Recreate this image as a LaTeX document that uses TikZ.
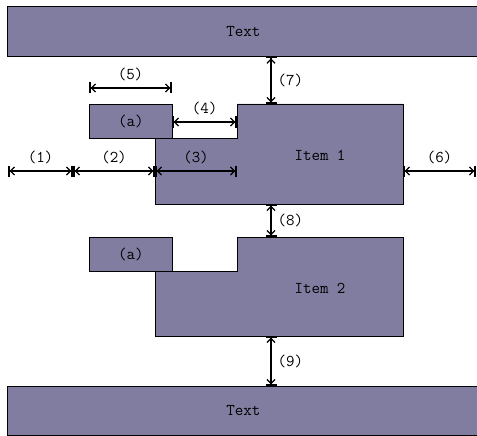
\documentclass[tikz,border=0pt]{standalone}
\usetikzlibrary{calc,positioning,arrows.meta}
\definecolor{boxfill}{RGB}{128,125,160}

\begin{document}
\begin{tikzpicture}[x=1pt, y=-1pt, font=\ttfamily\fontsize{16.5}{18}\selectfont,
	block/.style = {draw, fill=boxfill, line width=0.8pt, inner sep=0pt, anchor=north west},
	dim/.style = {{Bar[width=11pt,line width=1.6pt]Straight Barb[length=4pt,width=8pt]}-{Straight Barb[length=4pt,width=8pt]Bar[width=11pt,line width=1.6pt]}, line width=1.3pt},
	lbl/.style = {inner sep=2pt}]
\useasboundingbox (0,0) rectangle (477,436);

\node[block, minimum width=472pt, minimum height=50pt] (top)    at (7,6)   {Text};
\node[block, minimum width=472pt, minimum height=49pt] (bottom) at (7,386) {Text};

% item 1
\draw[block] (237,104) -- (403,104) -- (403,204) -- (155,204) -- (155,138) -- (237,138) -- cycle;
\node (item 1) at (320,155) {Item 1};
\node[block, minimum width=83pt, minimum height=34pt] (a1) at (89,104) {(a)};

% item 2
\draw[block] (237,237) -- (403,237) -- (403,336) -- (155,336) -- (155,271) -- (237,271) -- cycle;
\node (item 2) at (320,288) {Item 2};
\node[block, minimum width=83pt, minimum height=34pt] (a2) at (89,237) {(a)};

% dimension ends
\coordinate (p0) at (8,171);
\coordinate (p1) at (73,171);
\coordinate (p2) at (155,171);
\coordinate (p3) at (237,171);
\coordinate (p4) at (403,171);
\coordinate (p5) at (476,171);
\coordinate (q0) at (172,122);
\coordinate (q1) at (237,122);
\coordinate (r0) at (89,88);
\coordinate (r1) at (172,88);
\coordinate (v0) at (top.south -| 271,0);
\coordinate (v1) at (271,104);
\coordinate (v2) at (271,204);
\coordinate (v3) at (271,237);
\coordinate (v4) at (271,336);
\coordinate (v5) at (bottom.north -| 271,0);

\draw[dim] (p0) -- node[lbl, above=4pt] {(1)} (p1);
\draw[dim] (p1) -- node[lbl, above=4pt] {(2)} (p2);
\draw[dim] (p2) -- node[lbl, above=4pt] {(3)} (p3);
\draw[dim] (q0) -- node[lbl, above=4pt] {(4)} (q1);
\draw[dim] (r0) -- node[lbl, above=4pt] {(5)} (r1);
\draw[dim] (p4) -- node[lbl, above=4pt] {(6)} (p5);
\draw[dim] (v0) -- node[lbl, right=4pt] {(7)} (v1);
\draw[dim] (v2) -- node[lbl, right=4pt] {(8)} (v3);
\draw[dim] (v4) -- node[lbl, right=4pt] {(9)} (v5);

\end{tikzpicture}
\end{document}
